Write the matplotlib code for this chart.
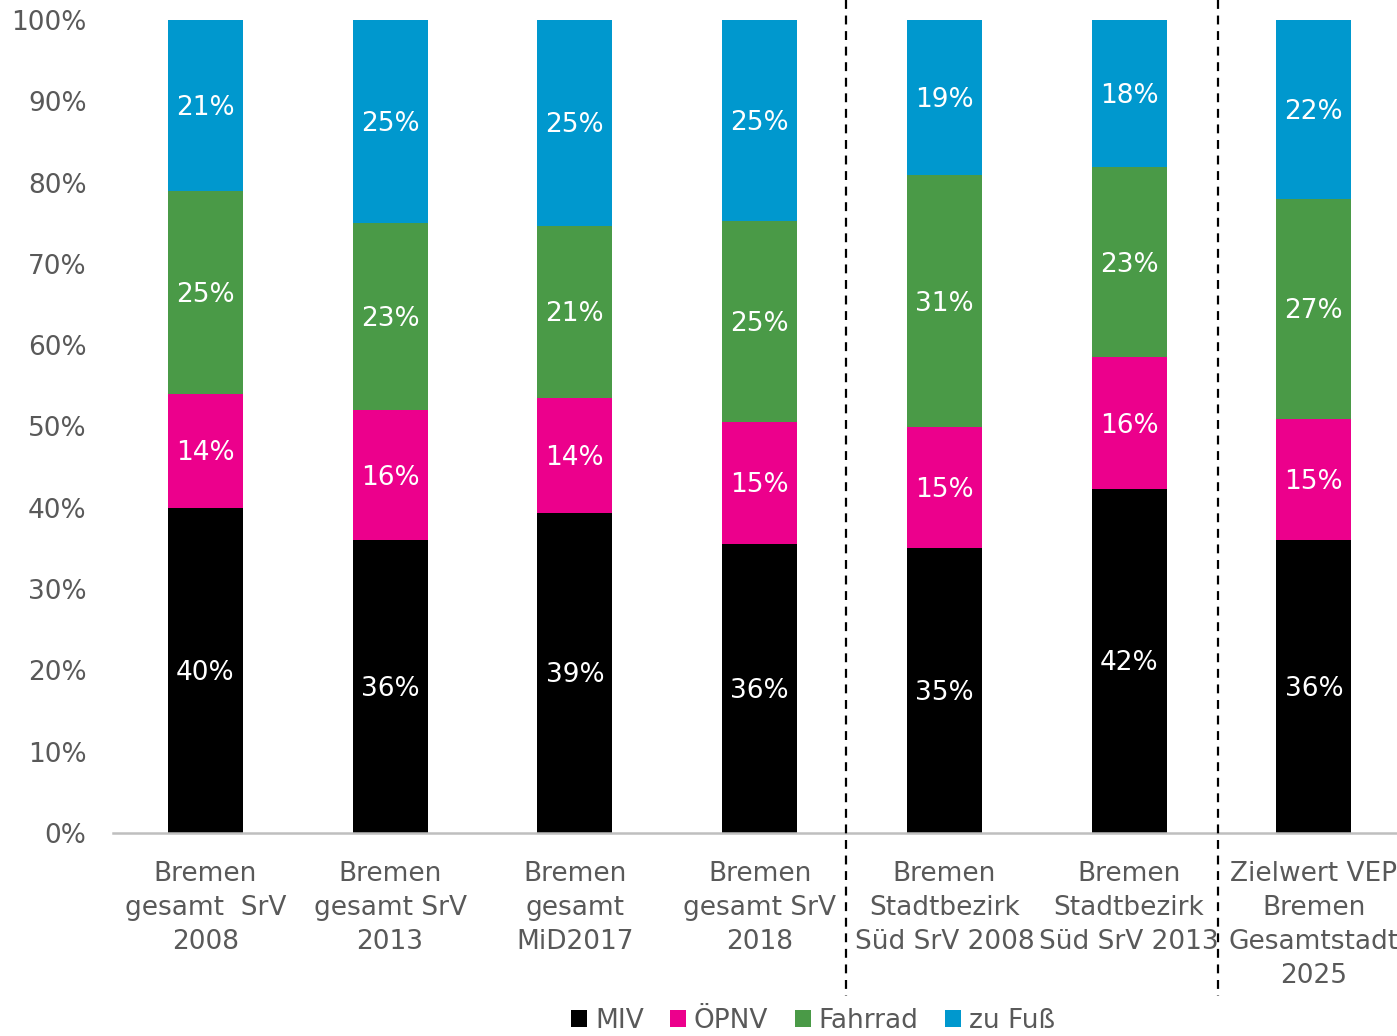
import matplotlib.pyplot as plt
import numpy as np

#--------------------------------------------------------------------------
# data (shares in %)
#--------------------------------------------------------------------------

categories = ["Bremen\ngesamt  SrV\n2008",
              "Bremen\ngesamt SrV\n2013",
              "Bremen\ngesamt\nMiD2017",
              "Bremen\ngesamt SrV\n2018",
              "Bremen\nStadtbezirk\nSüd SrV 2008",
              "Bremen\nStadtbezirk\nSüd SrV 2013",
              "Zielwert VEP\nBremen\nGesamtstadt\n2025"]

miv     = [40.0, 36.0, 39.4, 35.5, 35.1, 42.3, 36.0]
oepnv   = [14.0, 16.0, 14.1, 15.1, 14.8, 16.2, 14.9]
fahrrad = [25.0, 23.0, 21.2, 24.7, 31.0, 23.4, 27.1]
zu_fuss = [21.0, 25.0, 25.3, 24.7, 19.1, 18.1, 22.0]

series_names = ["MIV", "ÖPNV", "Fahrrad", "zu Fuß"]
colors = ["#000000", "#EC008C", "#4A9A47", "#0098CE"]

grey = "#595959"

#--------------------------------------------------------------------------
# plot
#--------------------------------------------------------------------------

plt.rcParams['font.family'] = ['DejaVu Sans']

fig = plt.figure(figsize=(13.97, 10.36), dpi=100)
ax = fig.add_axes([113 / 1397, 1 - 833 / 1036, 1 - 113 / 1397, (833 - 20) / 1036])

x = np.arange(len(categories))
bottom = np.zeros(len(categories))
for name, vals, col in zip(series_names, [miv, oepnv, fahrrad, zu_fuss], colors):
    vals = np.array(vals)
    ax.bar(x, vals, 0.405, bottom=bottom, color=col, label=name, zorder=2)
    for xi, b, v in zip(x, bottom, vals):
        ax.text(xi, b + v / 2 - 0.3, "{:.0f}%".format(v), ha='center', va='center',
                color='white', fontsize=19)
    bottom += vals

ax.set_xlim(-0.5, 6.45)
ax.set_ylim(0, 100)
ax.set_yticks(np.arange(0, 101, 10))
ax.set_yticklabels(["{}%".format(v) for v in range(0, 101, 10)])
ax.set_xticks(x)
ax.set_xticklabels(categories, linespacing=1.4)

for s in ['top', 'right', 'left']:
    ax.spines[s].set_visible(False)
ax.spines['bottom'].set_color('#BFBFBF')
ax.spines['bottom'].set_linewidth(1.8)
ax.tick_params(axis='both', length=0, labelsize=19, colors=grey)
ax.tick_params(axis='y', pad=19)
ax.tick_params(axis='x', pad=20)

# group separators
for xs in [3.47, 5.48]:
    ax.plot([xs, xs], [102.5, -20], color='black', linestyle=(0, (4, 3)),
            linewidth=1.6, clip_on=False, zorder=3)

leg = fig.legend(loc='center', bbox_to_anchor=(813 / 1397, 1 - 1021 / 1036), ncol=4,
                 frameon=False, fontsize=19, handlelength=0.6, handleheight=0.6,
                 handletextpad=0.3, columnspacing=1.0, labelcolor=grey)

plt.savefig("out.png", dpi=100)
